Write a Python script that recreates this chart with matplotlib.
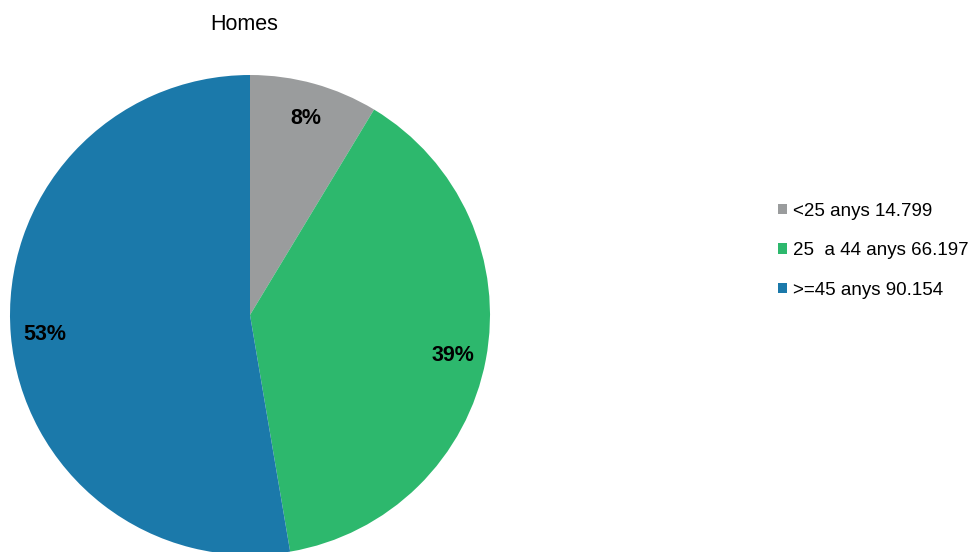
import numpy as np
import matplotlib.pyplot as plt

plt.rcParams['font.family'] = ['Liberation Sans', 'DejaVu Sans']

grups = ['<25 anys', '25  a 44 anys', '>=45 anys']
homes = [14799, 66197, 90154]
etiquetes = ['8%', '39%', '53%']
colors = ['#9a9c9d', '#2db86d', '#1b79aa']

fig = plt.figure(figsize=(9.79, 5.52), dpi=100)
# pie: centre (250, 315) px, radi 240 px
ax = fig.add_axes([10/979, -3/552, 480/979, 480/552])

noms = ['%s %s' % (g, format(v, ',').replace(',', '.')) for g, v in zip(grups, homes)]
wedges = ax.pie(homes, colors=colors, startangle=90, counterclock=False,
                radius=1, wedgeprops=dict(linewidth=0))[0]

# etiquetes de percentatge
for w, e in zip(wedges, etiquetes):
    mid = np.deg2rad((w.theta1 + w.theta2) / 2)
    ax.text(0.86*np.cos(mid), 0.86*np.sin(mid) - 0.01, e, ha='center', va='center',
            fontsize=15.5, fontweight='bold', color='black')
ax.set_xlim(-1, 1)
ax.set_ylim(-1, 1)
ax.set_aspect('equal')
ax.axis('off')

fig.text(244/979, 1 - 25/552, 'Homes', ha='center', va='center', fontsize=15.5)

fig.legend(wedges, noms, loc='center left', bbox_to_anchor=(0.777, 0.546),
           frameon=False, fontsize=13.5, handlelength=0.5, handleheight=0.5,
           handletextpad=0.35, labelspacing=1.2)

fig.savefig('out.png', dpi=100)
